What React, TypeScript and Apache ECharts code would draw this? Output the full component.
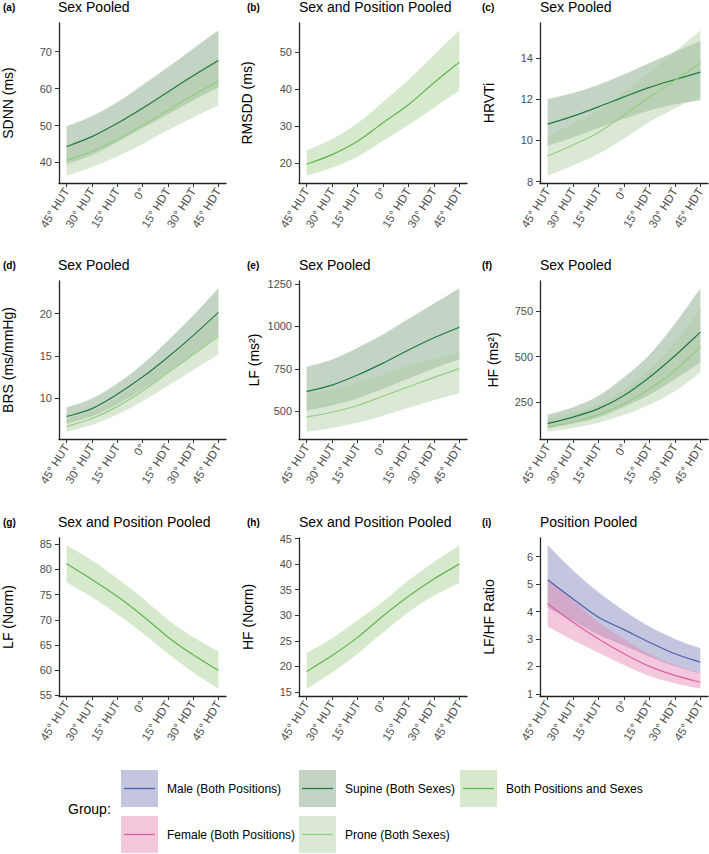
import React, { useEffect, useRef } from "react";
import * as echarts from "echarts";

const xLabels = ["45° HUT", "30° HUT", "15° HUT", "0°", "15° HDT", "30° HDT", "45° HDT"];

// (a) SDNN
const sdnnSupineMean = [44.3, 47.0, 50.6, 54.7, 59.1, 63.5, 67.6];
const sdnnSupineLower = [39.5, 42.0, 45.5, 49.3, 53.0, 56.8, 60.3];
const sdnnSupineUpper = [49.8, 52.5, 56.3, 61.0, 65.8, 70.8, 75.8];
const sdnnProneMean = [40.6, 43.0, 46.2, 50.0, 54.1, 58.2, 62.0];
const sdnnProneLower = [36.4, 38.7, 41.6, 45.0, 48.7, 52.2, 55.5];
const sdnnProneUpper = [44.8, 47.3, 50.8, 55.0, 59.5, 64.0, 68.5];
const sdnnTicks = [40, 50, 60, 70];

// (b) RMSDD
const rmssdMean = [19.7, 22.3, 25.9, 30.9, 35.8, 41.7, 47.3];
const rmssdLower = [16.6, 18.8, 21.8, 26.0, 30.3, 35.0, 39.6];
const rmssdUpper = [23.4, 26.5, 30.8, 36.5, 42.5, 49.2, 55.9];
const rmssdTicks = [20, 30, 40, 50];

// (c) HRVTi
const hrvtiSupineMean = [10.79, 11.18, 11.63, 12.11, 12.57, 12.95, 13.31];
const hrvtiSupineLower = [9.73, 10.15, 10.6, 11.05, 11.45, 11.75, 11.95];
const hrvtiSupineUpper = [12.0, 12.3, 12.7, 13.2, 13.75, 14.3, 14.82];
const hrvtiProneMean = [9.24, 9.78, 10.39, 11.23, 12.11, 12.92, 13.76];
const hrvtiProneLower = [8.29, 8.8, 9.35, 10.1, 10.9, 11.55, 12.13];
const hrvtiProneUpper = [10.2, 10.8, 11.45, 12.35, 13.3, 14.3, 15.34];
const hrvtiTicks = [8, 10, 12, 14];

// (d) BRS
const brsSupineMean = [7.76, 8.71, 10.41, 12.46, 14.83, 17.4, 20.16];
const brsSupineLower = [6.9, 7.8, 9.2, 11.0, 13.1, 15.2, 17.5];
const brsSupineUpper = [8.83, 9.9, 11.7, 14.0, 16.8, 19.8, 23.04];
const brsProneMean = [6.58, 7.53, 8.95, 10.8, 12.97, 15.15, 17.32];
const brsProneLower = [5.95, 6.75, 8.0, 9.6, 11.4, 13.3, 15.15];
const brsProneUpper = [7.45, 8.4, 10.0, 12.1, 14.6, 17.2, 19.9];
const brsTicks = [5, 10, 15, 20];

// (e) LF (ms²)
const lfSupineMean = [617, 655, 714, 784, 861, 933, 995];
const lfSupineLower = [506, 535, 578, 632, 694, 753, 807];
const lfSupineUpper = [762, 805, 875, 953, 1045, 1135, 1225];
const lfProneMean = [467, 495, 535, 589, 645, 700, 752];
const lfProneLower = [380, 402, 433, 475, 521, 566, 607];
const lfProneUpper = [603, 630, 668, 718, 770, 810, 846];
const lfTicks = [500, 750, 1000, 1250];

// (f) HF (ms²)
const hfSupineMean = [132, 168, 214, 286, 386, 504, 634];
const hfSupineLower = [105, 132, 166, 223, 290, 375, 467];
const hfSupineUpper = [181, 222, 285, 386, 510, 680, 875];
const hfProneMean = [114, 141, 181, 241, 322, 422, 554];
const hfProneLower = [87, 108, 137, 180, 236, 310, 413];
const hfProneUpper = [156, 190, 240, 320, 430, 575, 766];
const hfTicks = [250, 500, 750];

// (g) LF (Norm)
const lfnMean = [81.1, 78.0, 74.65, 70.8, 66.6, 63.05, 59.96];
const lfnLower = [77.4, 74.5, 71.1, 67.4, 63.3, 59.6, 56.3];
const lfnUpper = [84.8, 81.8, 78.2, 74.3, 70.0, 66.6, 63.7];
const lfnTicks = [55, 60, 65, 70, 75, 80, 85];

// (h) HF (Norm)
const hfnMean = [19.0, 22.1, 25.66, 29.86, 33.7, 37.1, 40.0];
const hfnLower = [15.6, 18.8, 22.4, 26.6, 30.6, 33.8, 36.3];
const hfnUpper = [22.6, 25.5, 29.0, 32.7, 36.8, 40.4, 43.7];
const hfnTicks = [15, 20, 25, 30, 35, 40, 45];

// (i) LF/HF Ratio
const ratioMaleMean = [5.16, 4.46, 3.79, 3.34, 2.88, 2.46, 2.15];
const ratioMaleLower = [4.15, 3.65, 3.15, 2.75, 2.35, 2.0, 1.73];
const ratioMaleUpper = [6.42, 5.5, 4.7, 4.03, 3.45, 3.0, 2.66];
const ratioFemaleMean = [4.28, 3.61, 3.0, 2.46, 2.0, 1.67, 1.42];
const ratioFemaleLower = [3.45, 2.95, 2.5, 2.05, 1.65, 1.38, 1.18];
const ratioFemaleUpper = [5.2, 4.4, 3.6, 3.0, 2.45, 2.05, 1.75];
const ratioTicks = [1, 2, 3, 4, 5, 6];

const legendRow1 = ["male", "supine", "both"];
const legendRow2 = ["female", "prone"];
const groupLabels: Record<string, string> = {
  male: "Male (Both Positions)",
  female: "Female (Both Positions)",
  supine: "Supine (Both Sexes)",
  prone: "Prone (Both Sexes)",
  both: "Both Positions and Sexes",
};

const FONT = "'Liberation Sans', Arial, Helvetica, sans-serif";

const groupStyle: Record<string, { line: string; fill: string }> = {
  male: { line: "#4a62ae", fill: "rgba(124,128,186,0.45)" },
  female: { line: "#e0609c", fill: "rgba(231,133,177,0.45)" },
  supine: { line: "#1f7a48", fill: "rgba(122,159,124,0.45)" },
  prone: { line: "#92cf7f", fill: "rgba(175,204,164,0.45)" },
  both: { line: "#5cb84a", fill: "rgba(164,206,142,0.45)" },
};

type Grp = { g: string; mean: number[]; lower: number[]; upper: number[] };
type Panel = { tag: string; title: string; yName: string; ticks: number[]; nameGap: number; groups: Grp[] };

const panels: Panel[] = [
  { tag: "(a)", title: "Sex Pooled", yName: "SDNN (ms)", ticks: sdnnTicks, nameGap: 44, groups: [
    { g: "supine", mean: sdnnSupineMean, lower: sdnnSupineLower, upper: sdnnSupineUpper },
    { g: "prone", mean: sdnnProneMean, lower: sdnnProneLower, upper: sdnnProneUpper } ] },
  { tag: "(b)", title: "Sex and Position Pooled", yName: "RMSDD (ms)", ticks: rmssdTicks, nameGap: 45, groups: [
    { g: "both", mean: rmssdMean, lower: rmssdLower, upper: rmssdUpper } ] },
  { tag: "(c)", title: "Sex Pooled", yName: "HRVTi", ticks: hrvtiTicks, nameGap: 44, groups: [
    { g: "supine", mean: hrvtiSupineMean, lower: hrvtiSupineLower, upper: hrvtiSupineUpper },
    { g: "prone", mean: hrvtiProneMean, lower: hrvtiProneLower, upper: hrvtiProneUpper } ] },
  { tag: "(d)", title: "Sex Pooled", yName: "BRS (ms/mmHg)", ticks: brsTicks, nameGap: 44, groups: [
    { g: "supine", mean: brsSupineMean, lower: brsSupineLower, upper: brsSupineUpper },
    { g: "prone", mean: brsProneMean, lower: brsProneLower, upper: brsProneUpper } ] },
  { tag: "(e)", title: "Sex Pooled", yName: "LF (ms²)", ticks: lfTicks, nameGap: 38, groups: [
    { g: "supine", mean: lfSupineMean, lower: lfSupineLower, upper: lfSupineUpper },
    { g: "prone", mean: lfProneMean, lower: lfProneLower, upper: lfProneUpper } ] },
  { tag: "(f)", title: "Sex Pooled", yName: "HF (ms²)", ticks: hfTicks, nameGap: 40, groups: [
    { g: "supine", mean: hfSupineMean, lower: hfSupineLower, upper: hfSupineUpper },
    { g: "prone", mean: hfProneMean, lower: hfProneLower, upper: hfProneUpper } ] },
  { tag: "(g)", title: "Sex and Position Pooled", yName: "LF (Norm)", ticks: lfnTicks, nameGap: 44, groups: [
    { g: "both", mean: lfnMean, lower: lfnLower, upper: lfnUpper } ] },
  { tag: "(h)", title: "Sex and Position Pooled", yName: "HF (Norm)", ticks: hfnTicks, nameGap: 44, groups: [
    { g: "both", mean: hfnMean, lower: hfnLower, upper: hfnUpper } ] },
  { tag: "(i)", title: "Position Pooled", yName: "LF/HF Ratio", ticks: ratioTicks, nameGap: 44, groups: [
    { g: "male", mean: ratioMaleMean, lower: ratioMaleLower, upper: ratioMaleUpper },
    { g: "female", mean: ratioFemaleMean, lower: ratioFemaleLower, upper: ratioFemaleUpper } ] },
];

const colX = [58, 299, 540];
const rowTop = [23, 281, 538];
const rowBottom = [183, 439, 696];
const tagX = [3, 247, 482];
const plotW = 168;

// Catmull-Rom curve through pixel points, as SVG path commands (no leading M)
function curveCmds(pts: number[][]): string {
  let d = "";
  for (let i = 0; i < pts.length - 1; i++) {
    const p0 = pts[Math.max(0, i - 1)];
    const p1 = pts[i];
    const p2 = pts[i + 1];
    const p3 = pts[Math.min(pts.length - 1, i + 2)];
    const c1x = p1[0] + (p2[0] - p0[0]) / 6;
    const c1y = p1[1] + (p2[1] - p0[1]) / 6;
    const c2x = p2[0] - (p3[0] - p1[0]) / 6;
    const c2y = p2[1] - (p3[1] - p1[1]) / 6;
    d += ` C${c1x},${c1y} ${c2x},${c2y} ${p2[0]},${p2[1]}`;
  }
  return d;
}

function bandSeries(k: number, g: Grp, fill: string) {
  const data = g.lower.map((l, i) => [i, l, g.upper[i]]);
  return {
    type: "custom", xAxisIndex: k, yAxisIndex: k, silent: true,
    data,
    encode: { x: 0, y: [1, 2] },
    renderItem: (params: any, api: any) => {
      if (params.dataIndex !== 0) return null;
      const up = data.map((d) => api.coord([d[0], d[2]]));
      const lo = data.map((d) => api.coord([d[0], d[1]])).reverse();
      const pathData = `M${up[0][0]},${up[0][1]}` + curveCmds(up) + ` L${lo[0][0]},${lo[0][1]}` + curveCmds(lo) + " Z";
      return { type: "path", shape: { pathData }, style: { fill, stroke: "none" } };
    },
  };
}

function lineSeries(k: number, g: Grp, color: string) {
  const data = g.mean.map((v, i) => [i, v]);
  return {
    type: "custom", xAxisIndex: k, yAxisIndex: k, silent: true,
    data,
    encode: { x: 0, y: 1 },
    renderItem: (params: any, api: any) => {
      if (params.dataIndex !== 0) return null;
      const pts = data.map((d) => api.coord(d));
      const pathData = `M${pts[0][0]},${pts[0][1]}` + curveCmds(pts);
      return { type: "path", shape: { pathData }, style: { fill: "none", stroke: color, lineWidth: 1.2 } };
    },
  };
}

function buildOption() {
  const grid: any[] = [];
  const xAxis: any[] = [];
  const yAxis: any[] = [];
  const series: any[] = [];
  const title: any[] = [];
  const idx = xLabels.map((_, i) => i);

  panels.forEach((p, k) => {
    const c = k % 3;
    const r = Math.floor(k / 3);
    grid.push({ left: colX[c], top: rowTop[r], width: plotW, height: rowBottom[r] - rowTop[r] });
    let lo = Infinity, hi = -Infinity;
    p.groups.forEach((g) => {
      g.lower.forEach((v) => (lo = Math.min(lo, v)));
      g.upper.forEach((v) => (hi = Math.max(hi, v)));
    });
    const pad = (hi - lo) * 0.05;
    xAxis.push({
      type: "value", gridIndex: k, min: -0.3, max: 6.3,
      axisLine: { show: true, onZero: false, lineStyle: { color: "#222", width: 1.3 } },
      axisTick: { show: true, customValues: idx, length: 4, lineStyle: { color: "#333", width: 1 } },
      axisLabel: { customValues: idx, rotate: 58, margin: 6, color: "#4d4d4d", fontSize: 11.5, fontFamily: FONT,
        hideOverlap: false, formatter: (v: number) => xLabels[Math.round(v)] },
      splitLine: { show: false },
    });
    yAxis.push({
      type: "value", gridIndex: k, min: lo - pad, max: hi + pad,
      name: p.yName, nameLocation: "middle", nameGap: p.nameGap,
      nameTextStyle: { fontSize: 14, color: "#000", fontFamily: FONT },
      axisLine: { show: true, onZero: false, lineStyle: { color: "#222", width: 1.3 } },
      axisTick: { show: true, customValues: p.ticks, length: 4, lineStyle: { color: "#333", width: 1 } },
      axisLabel: { customValues: p.ticks, margin: 7, color: "#4d4d4d", fontSize: 11, fontFamily: FONT,
        formatter: (v: number) => String(v) },
      splitLine: { show: false },
    });
    title.push({ text: p.title, left: colX[c], top: rowTop[r] - 23, padding: 0,
      textStyle: { fontSize: 14, fontWeight: "normal", color: "#000", fontFamily: FONT } });
    title.push({ text: p.tag, left: tagX[c], top: rowTop[r] - 21, padding: 0,
      textStyle: { fontSize: 10, fontWeight: "bold", color: "#000", fontFamily: FONT } });

    p.groups.forEach((g) => series.push(bandSeries(k, g, groupStyle[g.g].fill)));
    p.groups.forEach((g) => series.push(lineSeries(k, g, groupStyle[g.g].line)));
  });

  // legend drawn with graphics
  const graphic: any[] = [];
  graphic.push({ type: "text", left: 68, top: 802, style: { text: "Group:", fontSize: 14, fill: "#000", fontFamily: FONT } });
  const keyX = [121, 299, 460];
  const keyY = [770, 816];
  [legendRow1, legendRow2].forEach((row, ri) => {
    row.forEach((g, ci) => {
      const st = groupStyle[g];
      const x = keyX[ci], y = keyY[ri];
      graphic.push({ type: "rect", shape: { x, y, width: 37, height: 37 }, style: { fill: st.fill } });
      graphic.push({ type: "line", shape: { x1: x + 3, y1: y + 18.5, x2: x + 34, y2: y + 18.5 }, style: { stroke: st.line, lineWidth: 1.3 } });
      graphic.push({ type: "text", x: x + 46, y: y + 18.5, style: { text: groupLabels[g], fontSize: 12, fill: "#000", fontFamily: FONT, verticalAlign: "middle" } });
    });
  });

  return { animation: false, backgroundColor: "#fff", grid, xAxis, yAxis, series, title, graphic };
}

export default function App() {
  const ref = useRef<HTMLDivElement>(null);
  useEffect(() => {
    document.body.style.margin = "0";
    const chart = echarts.init(ref.current!, null, { renderer: "svg" });
    chart.setOption(buildOption() as any);
    return () => chart.dispose();
  }, []);
  return <div ref={ref} style={{ width: 709, height: 854 }} />;
}
